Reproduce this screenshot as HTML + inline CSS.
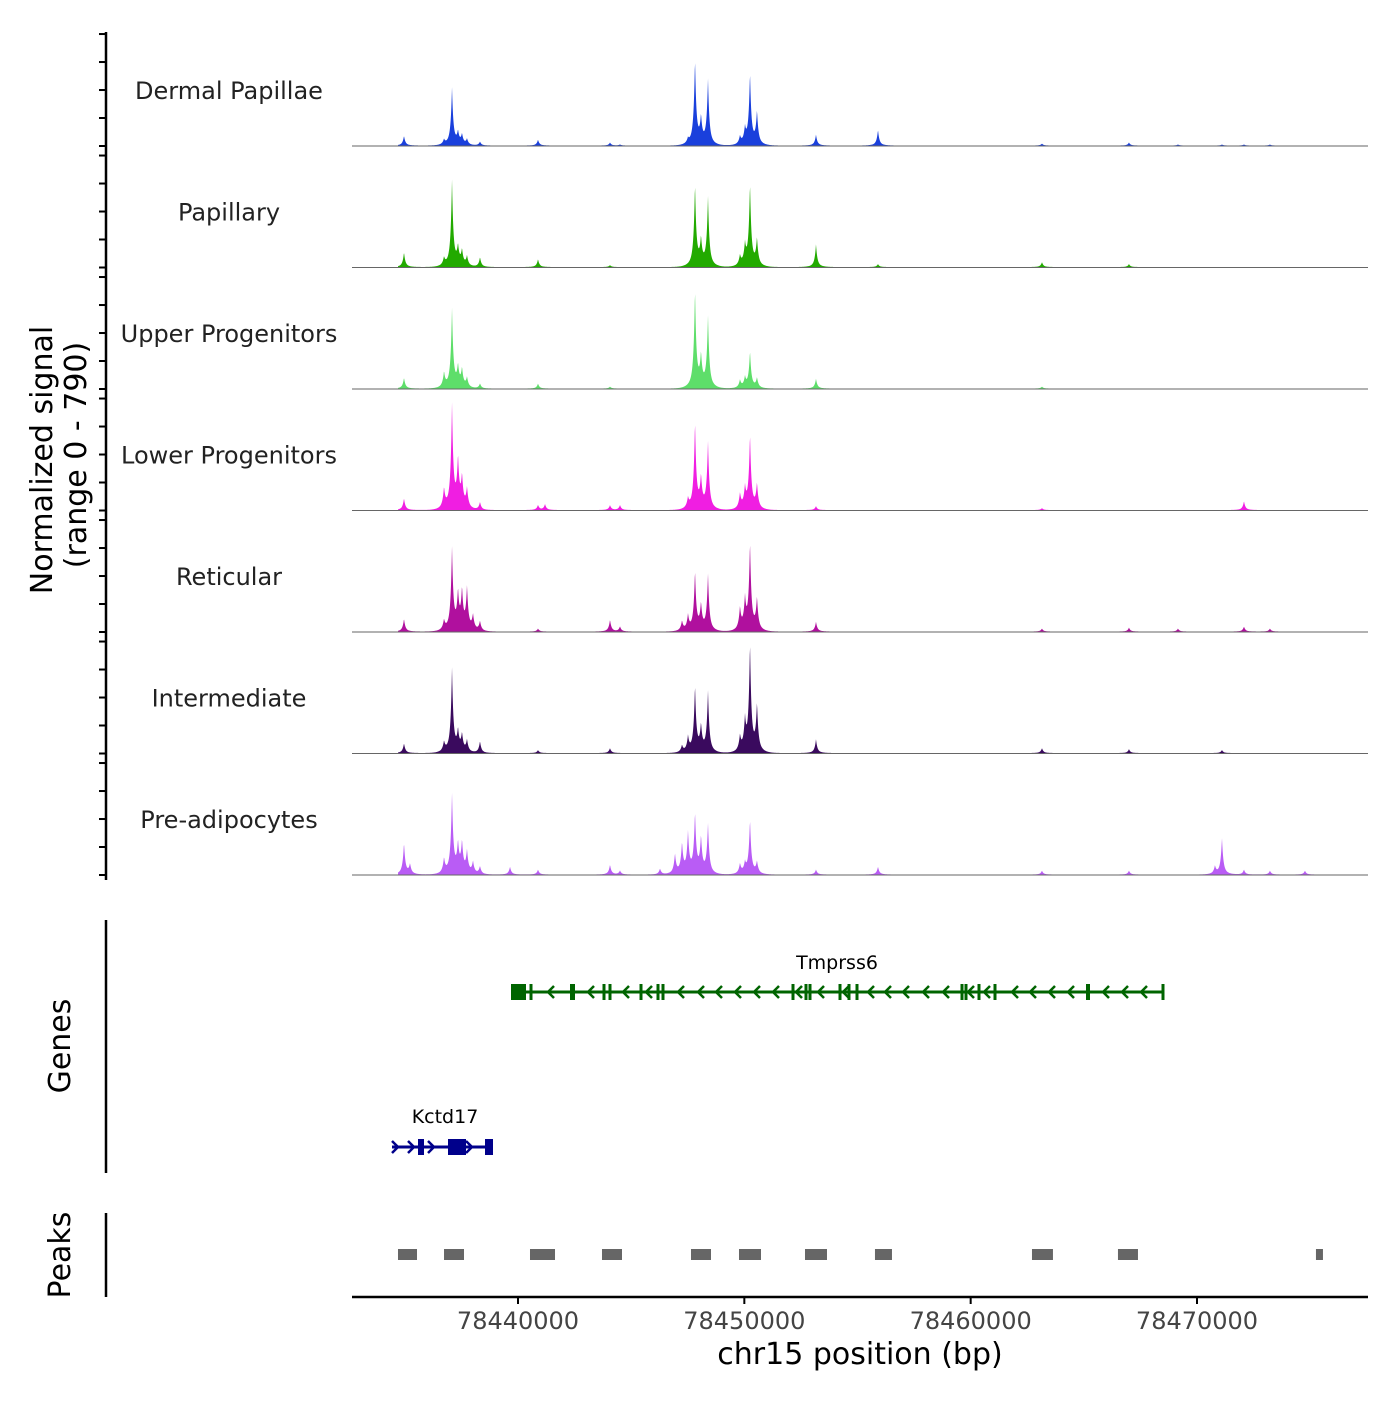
<!DOCTYPE html>
<html><head><meta charset="utf-8"><style>
html,body{margin:0;padding:0;background:#fff;}
svg text{font-family:"DejaVu Sans","Liberation Sans",sans-serif;}
</style></head><body>
<svg id="chart" width="1400" height="1400" viewBox="0 0 1400 1400" xmlns="http://www.w3.org/2000/svg">
<g id="tracks"></g>
<g id="yaxis"></g>
<text transform="translate(52,460) rotate(-90)" text-anchor="middle" font-size="30" fill="#000">Normalized signal</text>
<text transform="translate(86,455) rotate(-90)" text-anchor="middle" font-size="30" fill="#000">(range 0 - 790)</text>
<g id="genes">
<line x1="106" y1="920" x2="106" y2="1173" stroke="#000" stroke-width="2.5"/>
<text transform="translate(70,1046) rotate(-90)" text-anchor="middle" font-size="30">Genes</text>
<text x="837" y="969" text-anchor="middle" font-size="19">Tmprss6</text>
<text x="445" y="1123" text-anchor="middle" font-size="19">Kctd17</text>
</g>
<g id="peaks">
<line x1="106" y1="1213" x2="106" y2="1297" stroke="#000" stroke-width="2.5"/>
<text transform="translate(70,1255) rotate(-90)" text-anchor="middle" font-size="30">Peaks</text>
</g>
<g id="xaxis">
<line x1="352" y1="1297" x2="1368" y2="1297" stroke="#000" stroke-width="2.5"/>
<text x="860" y="1364" text-anchor="middle" font-size="30">chr15 position (bp)</text>
</g>
</svg>
<script>
const trackNames=["Dermal Papillae","Papillary","Upper Progenitors","Lower Progenitors","Reticular","Intermediate","Pre-adipocytes"];
const trackColors=["#1a40dc","#22aa00","#5ede6a","#f01ee2","#b0109e","#3a0a5e","#b95cf5"];
const peakCenters=[78434963,78435229,78436731,78437084,78437349,78437526,78437747,78438012,78438321,78439647,78440884,78441193,78444065,78444506,78446274,78446936,78447246,78447511,78447820,78448085,78448394,78449808,78450029,78450250,78450559,78453166,78455905,78463150,78466994,78469159,78470793,78471103,78472075,78473223,78474770];
const sigDP=[65,0,33,377,78,65,39,0,26,0,39,0,20,7,0,0,0,33,559,163,429,52,98,468,215,72,104,13,20,7,0,7,7,7,0];
const sigPap=[98,0,52,566,117,98,65,0,65,0,52,0,13,0,0,0,0,0,540,163,455,65,130,540,176,150,20,33,20,0,0,0,0,0,0];
const sigUpper=[72,0,98,520,130,117,65,0,33,0,33,0,13,0,0,0,0,0,644,195,468,52,65,241,65,65,0,13,0,0,0,0,0,0,0];
const sigLower=[78,0,130,683,312,195,130,0,52,0,33,39,33,33,0,0,0,65,572,195,442,98,130,488,163,26,0,13,0,0,0,0,59,0,0];
const sigRet=[85,0,65,540,228,247,273,98,65,0,20,0,78,33,0,0,65,98,390,163,371,143,195,572,208,65,0,20,26,20,0,0,33,20,0];
const sigInt=[65,0,65,553,130,111,78,0,78,0,20,0,33,0,0,0,46,98,436,163,403,98,195,709,306,91,0,33,26,0,0,20,0,0,0];
const sigPre=[208,65,98,520,182,195,143,78,52,52,33,0,65,26,39,130,195,260,390,228,325,65,65,358,78,33,52,26,26,0,52,241,33,26,26];
const yTicks=[0,182,364,546,728];
const xTicks=[78440000,78450000,78460000,78470000];
const xTickLabels=["78440000","78450000","78460000","78470000"];
const peakStarts=[78434698,78436731,78440530,78443711,78447643,78449764,78452680,78455772,78462709,78466508,78475256];
const peakEnds=[78435538,78437614,78441635,78444595,78448527,78450736,78453652,78456523,78463636,78467392,78475565];
const dataStart=78434700, dataEnd=78475550;

const NS="http://www.w3.org/2000/svg";
const X0=78440000, PX0=518, PXPERBP=(1197-518)/30000;
function x(bp){return PX0+(bp-X0)*PXPERBP;}
const TRACK_H=121.5, KY=121.5/790;
function base(i){return 146+i*TRACK_H;}
function y(i,v){return base(i)-v*KY;}
function mk(tag,attrs,parent){const e=document.createElementNS(NS,tag);for(const k in attrs)e.setAttribute(k,attrs[k]);parent.appendChild(e);return e;}

const allSig=[sigDP,sigPap,sigUpper,sigLower,sigRet,sigInt,sigPre];
const tracks=document.getElementById('tracks');
const yaxis=document.getElementById('yaxis');
mk('line',{x1:106,y1:32,x2:106,y2:880,stroke:'#000','stroke-width':2.5},yaxis);
allSig.forEach((sig,i)=>{
  const g=mk('g',{},tracks);
  
  
  let d='M'+x(dataStart).toFixed(2)+','+base(i);
  for(let bp=dataStart;bp<=dataEnd;bp+=15){
    let v=0;
    for(let k=0;k<peakCenters.length;k++){
      if(!sig[k])continue;
      const dd=Math.abs(bp-peakCenters[k]);
      v+=sig[k]*(0.8*Math.exp(-dd/55)+0.2*Math.exp(-dd/200));
    }
    v+=3;
    d+=' L'+x(bp).toFixed(2)+','+y(i,v).toFixed(2);
  }
  d+=' L'+x(dataEnd).toFixed(2)+','+base(i)+' Z';
  const p=mk('path',{d:d,fill:trackColors[i],stroke:'none'},g);
  
  
  const bl=mk('line',{x1:352,x2:1368,y1:base(i),y2:base(i),stroke:'#666','stroke-width':1},g);
  
  
  const t=mk('text',{x:229,y:base(i)-47,'text-anchor':'middle','font-size':24,fill:'#222'},g);
  t.textContent=trackNames[i];
  
  
  yTicks.forEach(tv=>{
    const tk=mk('line',{x1:99,x2:106,y1:y(i,tv),y2:y(i,tv),stroke:'#000','stroke-width':2},yaxis);
    
    
  });
});

const pk=document.getElementById('peaks');
peakStarts.forEach((s,k)=>{
  const r=mk('rect',{x:x(s),y:1249,width:Math.max(6,x(peakEnds[k])-x(s)),height:11,fill:'#666'},pk);
  
  
});

const xa=document.getElementById('xaxis');
xTicks.forEach((t,k)=>{
  const l=mk('line',{x1:x(t),x2:x(t),y1:1297,y2:1304,stroke:'#000','stroke-width':2},xa);
  
  
  const tx=mk('text',{x:x(t),y:1329,'text-anchor':'middle','font-size':24,fill:'#444'},xa);
  tx.textContent=xTickLabels[k];
  
  
});

const gn=document.getElementById('genes');
function gene(name,x1,x2,yy,col,boxes,bars,chev,dir){
  const g=mk('g',{},gn);
  
  
  mk('line',{x1:x1,x2:x2,y1:yy,y2:yy,stroke:col,'stroke-width':3},g);
  boxes.forEach(b=>mk('rect',{x:b[0],y:yy-8,width:b[1]-b[0],height:16,fill:col},g));
  bars.forEach(b=>mk('rect',{x:b-1.5,y:yy-8,width:3,height:16,fill:col},g));
  chev.forEach(c=>mk('path',{d:dir<0?`M${c+4},${yy-6} L${c-2},${yy} L${c+4},${yy+6}`:`M${c-4},${yy-6} L${c+2},${yy} L${c-4},${yy+6}`,fill:'none',stroke:col,'stroke-width':2.5},g));
}
gene('gene-tmprss6',512,1164,992,'#006400',[[511,526],[570,575],[1086,1090]],[531,604,610,641,658,663,793,806,810,840,849,857,962,966,979,995,1163],[550,590,625,648,680,700,718,737,756,775,798,820,845,870,887,905,925,945,970,986,1014,1032,1051,1070,1105,1124,1143],-1);
gene('gene-kctd17',392,493,1147,'#00008b',[[418,424],[448,466],[485,493]],[],[396,412,432,470],1);
</script>
</body></html>
